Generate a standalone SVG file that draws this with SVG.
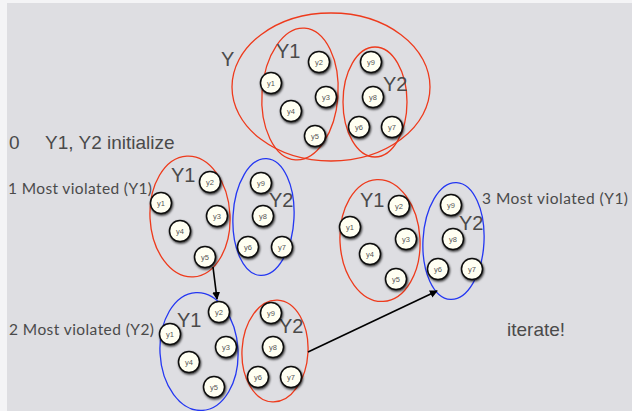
<svg xmlns="http://www.w3.org/2000/svg" width="632" height="411" viewBox="0 0 632 411">
  <style>
    .bg { fill: #dedee2; }
    .red { fill: none; stroke: #ee3a1c; stroke-width: 1.3; }
    .blue { fill: none; stroke: #2437f2; stroke-width: 1.3; }
    .nd circle { fill: #fffff2; stroke: #111; stroke-width: 1.5; filter: url(#shadow); }
    .nd text { font-family: "Liberation Sans", Arial, sans-serif; font-size: 7.5px; fill: #555; text-anchor: middle; }
    .lbl { font-family: "Liberation Sans", Arial, sans-serif; font-size: 20px; fill: #4a4a4a; }
    .cap { font-family: "Liberation Sans", Arial, sans-serif; font-size: 19px; fill: #4a4a4a; }
    .step { font-family: Lato, "Open Sans", sans-serif; font-size: 15.5px; fill: #4a4a4a; }
    .conn { stroke: #000; stroke-width: 1.6; fill: none; marker-end: url(#head); }
  </style>
  <defs>
    <filter id="shadow" x="-50%" y="-50%" width="200%" height="200%">
      <feDropShadow dx="0.8" dy="1.4" stdDeviation="1.3" flood-color="#000" flood-opacity="0.8"/>
    </filter>
    <marker id="head" markerWidth="8" markerHeight="8" refX="7" refY="4" orient="auto" markerUnits="userSpaceOnUse">
      <path d="M0,0 L8,4 L0,8 Z" fill="#000"/>
    </marker>
  </defs>

  <!-- slide background with paper margin -->
  <rect width="632" height="411" fill="#f4f4f6"/>
  <rect class="bg" x="7" y="3" width="625" height="408"/>

  <!-- full set Y -->
  <g id="setY">
    <ellipse class="red" cx="331" cy="87" rx="99" ry="74"/>
    <text class="lbl" x="221" y="66">Y</text>
    <ellipse class="red" cx="300" cy="94" rx="38" ry="66" transform="rotate(4 300 94)"/>
    <text class="lbl" x="276" y="58">Y1</text>
    <ellipse class="red" cx="375" cy="102" rx="32" ry="55"/>
    <text class="lbl" x="383" y="91">Y2</text>
  </g>
  <g id="y0-1" class="nd" transform="translate(271,83)"><circle r="10.5"/><text y="2.5">y1</text></g>
  <g id="y0-2" class="nd" transform="translate(319,62)"><circle r="10.5"/><text y="2.5">y2</text></g>
  <g id="y0-3" class="nd" transform="translate(326,97)"><circle r="10.5"/><text y="2.5">y3</text></g>
  <g id="y0-4" class="nd" transform="translate(291,111)"><circle r="10.5"/><text y="2.5">y4</text></g>
  <g id="y0-5" class="nd" transform="translate(315,136)"><circle r="10.5"/><text y="2.5">y5</text></g>
  <g id="y0-9" class="nd" transform="translate(371,62)"><circle r="10.5"/><text y="2.5">y9</text></g>
  <g id="y0-8" class="nd" transform="translate(373,97)"><circle r="10.5"/><text y="2.5">y8</text></g>
  <g id="y0-6" class="nd" transform="translate(359,127)"><circle r="10.5"/><text y="2.5">y6</text></g>
  <g id="y0-7" class="nd" transform="translate(392,127)"><circle r="10.5"/><text y="2.5">y7</text></g>

  <!-- step captions -->
  <text class="cap" x="9" y="149" font-size="17">0</text>
  <text class="cap" x="45" y="149">Y1, Y2 initialize</text>
  <text class="step" x="8" y="194" textLength="144">1 Most violated (Y1)</text>
  <text class="step" x="9" y="335" textLength="145">2 Most violated (Y2)</text>
  <text class="step" x="482" y="204" textLength="146">3 Most violated (Y1)</text>
  <text class="cap" x="507" y="336">iterate!</text>

  <!-- step 1 -->
  <g id="step1">
    <ellipse class="red" cx="190" cy="216.5" rx="40" ry="60.5" transform="rotate(-3 190 216.5)"/>
    <text class="lbl" x="171" y="182">Y1</text>
    <ellipse class="blue" cx="263.5" cy="217" rx="30.5" ry="58.5" transform="rotate(3 263.5 217)"/>
    <text class="lbl" x="269" y="207">Y2</text>
  </g>
  <g id="y1-1" class="nd" transform="translate(161,203)"><circle r="10.5"/><text y="2.5">y1</text></g>
  <g id="y1-2" class="nd" transform="translate(210,182)"><circle r="10.5"/><text y="2.5">y2</text></g>
  <g id="y1-3" class="nd" transform="translate(217,216)"><circle r="10.5"/><text y="2.5">y3</text></g>
  <g id="y1-4" class="nd" transform="translate(180,231)"><circle r="10.5"/><text y="2.5">y4</text></g>
  <g id="y1-5" class="nd" transform="translate(205,257)"><circle r="10.5"/><text y="2.5">y5</text></g>
  <g id="y1-9" class="nd" transform="translate(261,183)"><circle r="10.5"/><text y="2.5">y9</text></g>
  <g id="y1-8" class="nd" transform="translate(263,216)"><circle r="10.5"/><text y="2.5">y8</text></g>
  <g id="y1-6" class="nd" transform="translate(248,247)"><circle r="10.5"/><text y="2.5">y6</text></g>
  <g id="y1-7" class="nd" transform="translate(282,247)"><circle r="10.5"/><text y="2.5">y7</text></g>

  <!-- step 2 -->
  <g id="step2">
    <ellipse class="blue" cx="199" cy="351.5" rx="39" ry="59" transform="rotate(-3 199 351.5)"/>
    <text class="lbl" x="177" y="327">Y1</text>
    <ellipse class="red" cx="275" cy="351" rx="33" ry="51" transform="rotate(3 275 351)"/>
    <text class="lbl" x="279" y="333">Y2</text>
  </g>
  <g id="y2-1" class="nd" transform="translate(170,334)"><circle r="10.5"/><text y="2.5">y1</text></g>
  <g id="y2-2" class="nd" transform="translate(219,312)"><circle r="10.5"/><text y="2.5">y2</text></g>
  <g id="y2-3" class="nd" transform="translate(226,347)"><circle r="10.5"/><text y="2.5">y3</text></g>
  <g id="y2-4" class="nd" transform="translate(189,362)"><circle r="10.5"/><text y="2.5">y4</text></g>
  <g id="y2-5" class="nd" transform="translate(214,387)"><circle r="10.5"/><text y="2.5">y5</text></g>
  <g id="y2-9" class="nd" transform="translate(271,313)"><circle r="10.5"/><text y="2.5">y9</text></g>
  <g id="y2-8" class="nd" transform="translate(273,347)"><circle r="10.5"/><text y="2.5">y8</text></g>
  <g id="y2-6" class="nd" transform="translate(258,377)"><circle r="10.5"/><text y="2.5">y6</text></g>
  <g id="y2-7" class="nd" transform="translate(291,377)"><circle r="10.5"/><text y="2.5">y7</text></g>

  <!-- step 3 -->
  <g id="step3">
    <ellipse class="red" cx="380" cy="240.5" rx="40" ry="61" transform="rotate(-3 380 240.5)"/>
    <text class="lbl" x="360" y="207">Y1</text>
    <ellipse class="blue" cx="453.5" cy="241" rx="30.5" ry="58.5" transform="rotate(3 453.5 241)"/>
    <text class="lbl" x="459" y="230">Y2</text>
  </g>
  <g id="y3-1" class="nd" transform="translate(350,227)"><circle r="10.5"/><text y="2.5">y1</text></g>
  <g id="y3-2" class="nd" transform="translate(399,206)"><circle r="10.5"/><text y="2.5">y2</text></g>
  <g id="y3-3" class="nd" transform="translate(406,239)"><circle r="10.5"/><text y="2.5">y3</text></g>
  <g id="y3-4" class="nd" transform="translate(370,254)"><circle r="10.5"/><text y="2.5">y4</text></g>
  <g id="y3-5" class="nd" transform="translate(396,279)"><circle r="10.5"/><text y="2.5">y5</text></g>
  <g id="y3-9" class="nd" transform="translate(451,205)"><circle r="10.5"/><text y="2.5">y9</text></g>
  <g id="y3-8" class="nd" transform="translate(453,239)"><circle r="10.5"/><text y="2.5">y8</text></g>
  <g id="y3-6" class="nd" transform="translate(438,269)"><circle r="10.5"/><text y="2.5">y6</text></g>
  <g id="y3-7" class="nd" transform="translate(472,269)"><circle r="10.5"/><text y="2.5">y7</text></g>

  <!-- transitions between steps -->
  <g id="connectors">
    <path class="conn" d="M213,267 L217,299"/>
    <path class="conn" d="M308,352 L437,291"/>
  </g>
</svg>
